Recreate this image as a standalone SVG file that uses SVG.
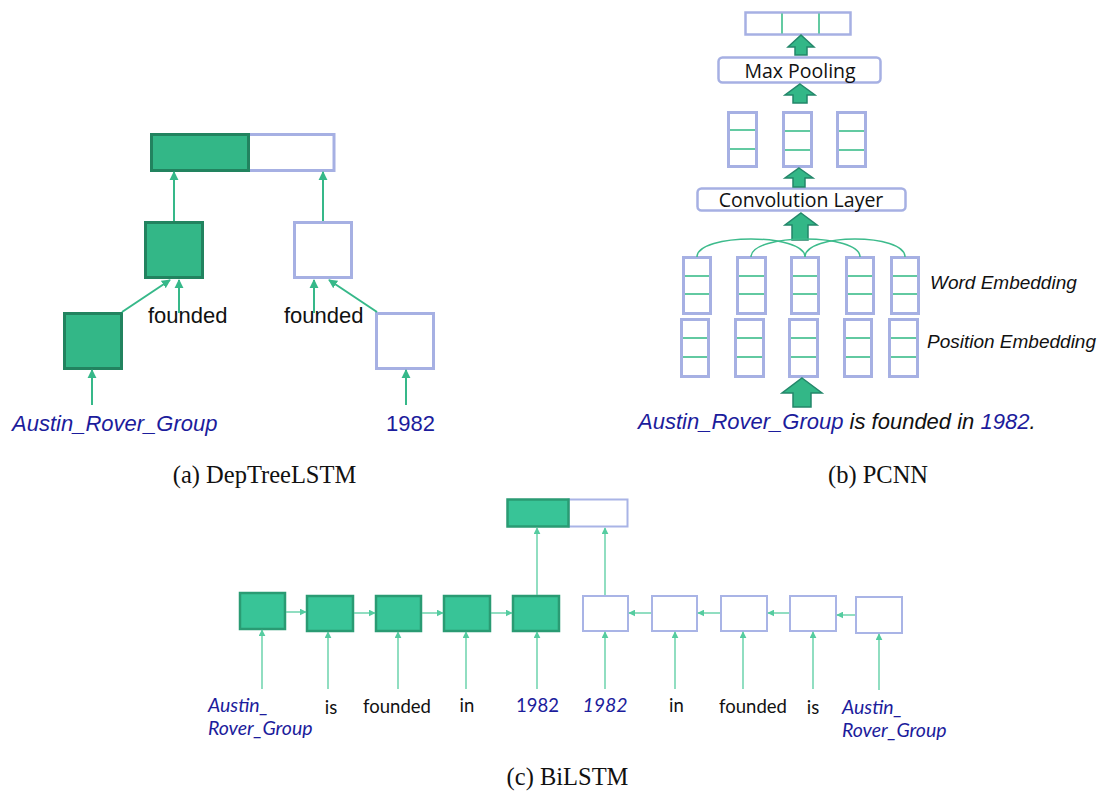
<svg xmlns="http://www.w3.org/2000/svg" width="1100" height="792" viewBox="0 0 1100 792">
<style>
.gA{fill:#33b787;stroke:#22835f;stroke-width:3}
.wA{fill:#fff;stroke:#a6b0e3;stroke-width:3}
.gC{fill:#38c497;stroke:#2a9b73;stroke-width:2.5}
.wC{fill:#fff;stroke:#a9b4e6;stroke-width:2}
.col{fill:#fff;stroke:#a6b0e3;stroke-width:3}
.div{stroke:#2fb883;stroke-width:1.5}
.box{fill:#fff;stroke:#a6b0e3;stroke-width:2.5}
.fat{fill:#33b787;stroke:#23876a;stroke-width:1.5}
.ca{stroke:#36b889;stroke-width:2;fill:none;marker-end:url(#ha)}
.cc{stroke:#55cca0;stroke-width:1.3;fill:none;marker-end:url(#hc)}
.arc{stroke:#3dbb8c;stroke-width:1.5;fill:none}
.sa{font-family:"Liberation Sans",Arial,sans-serif;font-size:22px}
.it{font-style:italic}
.blue{fill:#1c1c9c}
.blk{fill:#111}
.cal{font-family:Lato,"Open Sans",sans-serif;font-size:18.5px}
.ci{font-size:19.5px}
.os{font-family:"Open Sans",sans-serif;font-size:19.5px;fill:#111}
.emb{font-family:"Liberation Sans",Arial,sans-serif;font-size:19px;font-style:italic;fill:#111}
.cap{font-family:"Liberation Serif","Times New Roman",serif;font-size:24.5px;fill:#111;text-anchor:middle}
</style>
<defs>
<marker id="ha" viewBox="0 0 10 10" refX="9" refY="5" markerWidth="9" markerHeight="10" markerUnits="userSpaceOnUse" orient="auto"><path d="M0,0 L10,5 L0,10 z" fill="#36b889"/></marker>
<marker id="hc" viewBox="0 0 10 10" refX="9" refY="5" markerWidth="7" markerHeight="7" markerUnits="userSpaceOnUse" orient="auto"><path d="M0,0 L10,5 L0,10 z" fill="#55cca0"/></marker>
</defs>
<rect width="1100" height="792" fill="#fff"/>

<!-- Panel (a) -->
<g id="a-top">
<rect class="wA" x="248" y="134.5" width="86" height="36"/>
<rect class="gA" x="151.5" y="134.5" width="97" height="36"/>
</g>
<g id="a-mid-green"><rect class="gA" x="145.5" y="222.5" width="57" height="55"/></g>
<g id="a-mid-white"><rect class="wA" x="294.5" y="222.5" width="57" height="55"/></g>
<g id="a-bot-green"><rect class="gA" x="64.5" y="313.5" width="57" height="55"/></g>
<g id="a-bot-white"><rect class="wA" x="376.5" y="313.5" width="57" height="55"/></g>
<g id="a-labels">
<text class="sa blk" x="148" y="323">founded</text>
<text class="sa blk" x="284" y="323">founded</text>
<text class="sa it blue" x="12" y="431">Austin_Rover_Group</text>
<text class="sa blue" x="386" y="431">1982</text>
</g>

<!-- Panel (b) -->
<g id="b-output">
<rect class="box" x="745.5" y="12.5" width="105" height="22"/>
<line class="div" x1="782" y1="13.5" x2="782" y2="33.5"/>
<line class="div" x1="819" y1="13.5" x2="819" y2="33.5"/>
</g>
<g id="b-maxpool">
<rect class="box" x="718.5" y="57.5" width="162" height="25" rx="4"/>
<text class="os" x="800" y="78" text-anchor="middle">Max Pooling</text>
</g>
<g id="b-conv-out">
<rect class="col" x="728.5" y="112.5" width="28" height="54"/>
<line class="div" x1="730" y1="130" x2="755" y2="130"/><line class="div" x1="730" y1="149" x2="755" y2="149"/>
<rect class="col" x="783.5" y="112.5" width="28" height="54"/>
<line class="div" x1="785" y1="131" x2="810" y2="131"/><line class="div" x1="785" y1="150" x2="810" y2="150"/>
<rect class="col" x="837.5" y="112.5" width="28" height="54"/>
<line class="div" x1="839" y1="131" x2="864" y2="131"/><line class="div" x1="839" y1="150" x2="864" y2="150"/>
</g>
<g id="b-convlayer">
<rect class="box" x="697.5" y="188.5" width="208" height="22" rx="4"/>
<text class="os" x="801" y="207" text-anchor="middle">Convolution Layer</text>
</g>
<g id="b-word-emb">
<rect class="col" x="683.5" y="257.5" width="27" height="56"/>
<rect class="col" x="737.5" y="257.5" width="28" height="56"/>
<rect class="col" x="791.5" y="257.5" width="27" height="56"/>
<rect class="col" x="846.5" y="257.5" width="27" height="56"/>
<rect class="col" x="891.5" y="257.5" width="27" height="56"/>
<path class="div" d="M685,276H709M685,294H709M739,276H764M739,294H764M793,276H817M793,294H817M848,276H872M848,294H872M893,276H917M893,294H917"/>
<text class="emb" x="930" y="289">Word Embedding</text>
</g>
<g id="b-pos-emb">
<rect class="col" x="681.5" y="319.5" width="27" height="57"/>
<rect class="col" x="735.5" y="319.5" width="28" height="57"/>
<rect class="col" x="789.5" y="319.5" width="28" height="57"/>
<rect class="col" x="844.5" y="319.5" width="27" height="57"/>
<rect class="col" x="889.5" y="319.5" width="28" height="57"/>
<path class="div" d="M683,338H707M683,357H707M737,338H762M737,357H762M791,338H816M791,357H816M846,338H870M846,357H870M891,338H916M891,357H916"/>
<text class="emb" x="927" y="348">Position Embedding</text>
</g>
<g id="b-sentence">
<text class="sa it" x="638" y="429"><tspan class="blue">Austin_Rover_Group</tspan><tspan class="blk"> is founded in </tspan><tspan class="blue">1982</tspan><tspan class="blk">.</tspan></text>
</g>

<!-- Panel (c) -->
<g id="c-top">
<rect class="wC" x="568.5" y="499.5" width="59" height="27"/>
<rect class="gC" x="507.5" y="499.5" width="61" height="27"/>
</g>
<g id="c-f1"><rect class="gC" x="240" y="593" width="45" height="36"/></g>
<g id="c-f2"><rect class="gC" x="307" y="596" width="46" height="35"/></g>
<g id="c-f3"><rect class="gC" x="376" y="596" width="45" height="35"/></g>
<g id="c-f4"><rect class="gC" x="444" y="596" width="46" height="35"/></g>
<g id="c-f5"><rect class="gC" x="513" y="596" width="46" height="35"/></g>
<g id="c-b1"><rect class="wC" x="583" y="596" width="45" height="35"/></g>
<g id="c-b2"><rect class="wC" x="652" y="596" width="45" height="35"/></g>
<g id="c-b3"><rect class="wC" x="721" y="596" width="46" height="35"/></g>
<g id="c-b4"><rect class="wC" x="790" y="596" width="46" height="35"/></g>
<g id="c-b5"><rect class="wC" x="856" y="597" width="46" height="36"/></g>
<g id="c-labels" class="cal">
<text class="it blue ci" x="208" y="712">Austin_</text>
<text class="it blue ci" x="208" y="735">Rover_Group</text>
<text class="blk" x="331" y="714" text-anchor="middle">is</text>
<text class="blk" x="397" y="713" text-anchor="middle">founded</text>
<text class="blk" x="467" y="712" text-anchor="middle">in</text>
<text class="blue" x="537.5" y="712" text-anchor="middle">1982</text>
<text class="it blue ci" x="605" y="712" text-anchor="middle">1982</text>
<text class="blk" x="676.5" y="712" text-anchor="middle">in</text>
<text class="blk" x="753" y="713" text-anchor="middle">founded</text>
<text class="blk" x="813" y="714" text-anchor="middle">is</text>
<text class="it blue ci" x="842" y="714">Austin_</text>
<text class="it blue ci" x="842" y="737">Rover_Group</text>
</g>

<!-- Connectors -->
<g id="connectors">
<line class="ca" x1="174" y1="221" x2="174" y2="172"/>
<line class="ca" x1="323" y1="221" x2="323" y2="172"/>
<line class="ca" x1="122" y1="312" x2="170" y2="280"/>
<line class="ca" x1="179" y1="313" x2="179" y2="280"/>
<line class="ca" x1="314" y1="313" x2="314" y2="280"/>
<line class="ca" x1="377" y1="312" x2="329" y2="280"/>
<line class="ca" x1="92" y1="405" x2="92" y2="370"/>
<line class="ca" x1="406" y1="405" x2="406" y2="370"/>

<path class="fat" d="M801,35 L814,47 L807,47 L807,55 L795,55 L795,47 L788,47 Z"/>
<path class="fat" d="M800,84 L815,95 L807,95 L807,103 L793,103 L793,95 L785,95 Z"/>
<path class="fat" d="M799,168 L813,178 L805,178 L805,187 L793,187 L793,178 L785,178 Z"/>
<path class="fat" d="M801,213 L817,225 L808,225 L808,240 L792,240 L792,225 L785,225 Z"/>
<path class="fat" d="M802,378 L822,393 L811,393 L811,407 L793,407 L793,393 L782,393 Z"/>
<path class="arc" d="M697,257 C697,233 805,233 805,257"/>
<path class="arc" d="M751,257 C751,233 860,233 860,257"/>
<path class="arc" d="M805,257 C805,233 905,233 905,257"/>

<line class="cc" x1="286" y1="612" x2="306" y2="612"/>
<line class="cc" x1="354" y1="613" x2="375" y2="613"/>
<line class="cc" x1="422" y1="613" x2="443" y2="613"/>
<line class="cc" x1="491" y1="613" x2="512" y2="613"/>
<line class="cc" x1="651" y1="613" x2="629" y2="613"/>
<line class="cc" x1="720" y1="613" x2="698" y2="613"/>
<line class="cc" x1="789" y1="613" x2="768" y2="613"/>
<line class="cc" x1="855" y1="615" x2="837" y2="615"/>
<line class="cc" x1="537" y1="595" x2="537" y2="528"/>
<line class="cc" x1="605" y1="595" x2="605" y2="528"/>
<line class="cc" x1="262" y1="689" x2="262" y2="630"/>
<line class="cc" x1="328" y1="689" x2="328" y2="632"/>
<line class="cc" x1="398" y1="689" x2="398" y2="632"/>
<line class="cc" x1="466" y1="689" x2="466" y2="632"/>
<line class="cc" x1="537" y1="689" x2="537" y2="632"/>
<line class="cc" x1="605" y1="689" x2="605" y2="632"/>
<line class="cc" x1="675" y1="689" x2="675" y2="632"/>
<line class="cc" x1="743" y1="689" x2="743" y2="632"/>
<line class="cc" x1="813" y1="689" x2="813" y2="632"/>
<line class="cc" x1="879" y1="690" x2="879" y2="634"/>
</g>

<!-- Captions -->
<text class="cap" x="264.5" y="483">(a) DepTreeLSTM</text>
<text class="cap" x="878" y="483">(b) PCNN</text>
<text class="cap" x="567.5" y="785">(c) BiLSTM</text>
</svg>
